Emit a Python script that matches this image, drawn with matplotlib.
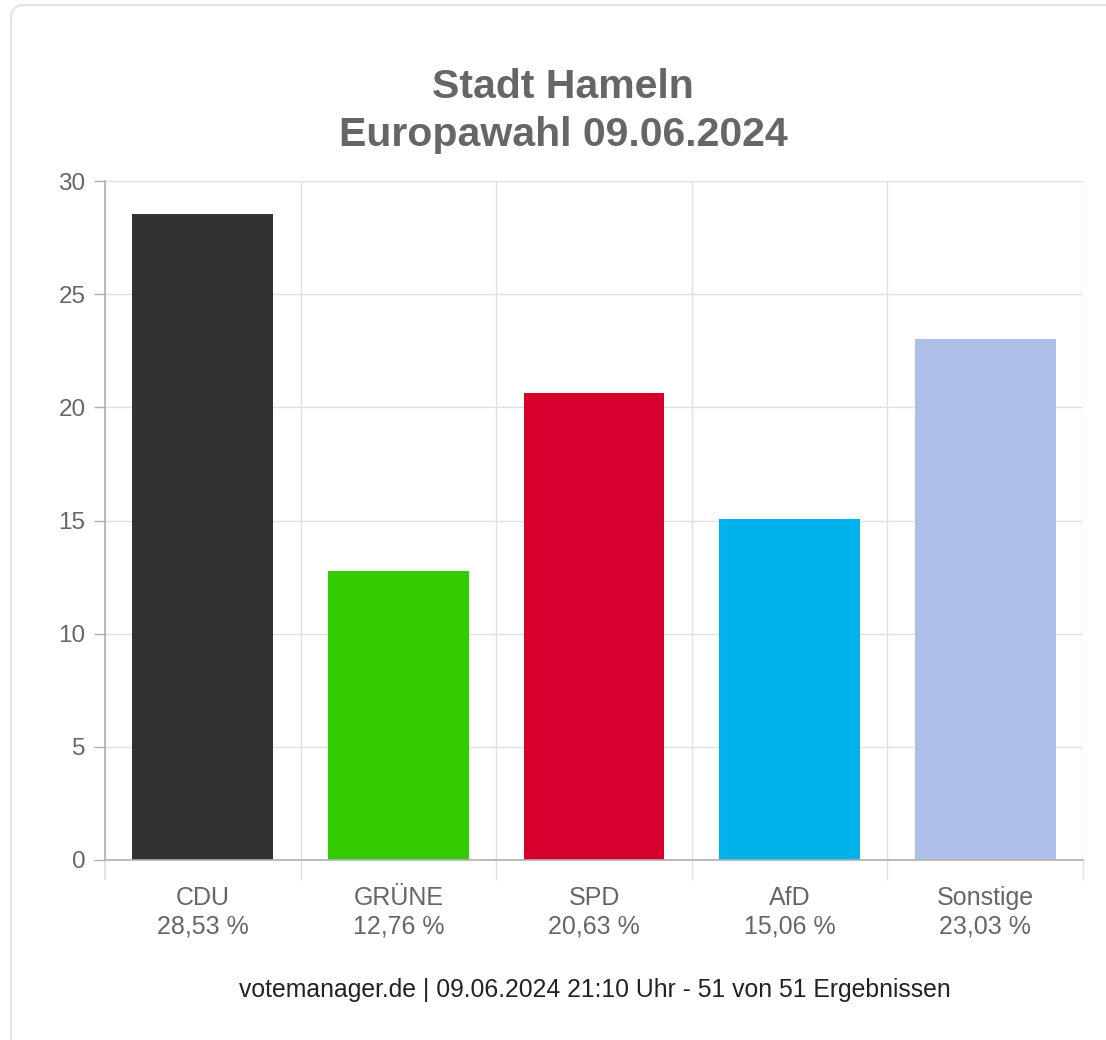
import matplotlib
matplotlib.use("Agg")
import matplotlib.pyplot as plt
from matplotlib.lines import Line2D
from matplotlib.patches import Arc

parties = ["CDU", "GRÜNE", "SPD", "AfD", "Sonstige"]
values = [28.53, 12.76, 20.63, 15.06, 23.03]
colors = ["#333230", "#33cc00", "#d5002b", "#00b2ec", "#adbfe6"]
yticks = [0, 5, 10, 15, 20, 25, 30]
title = "Stadt Hameln\nEuropawahl 09.06.2024"
footer = "votemanager.de | 09.06.2024 21:10 Uhr - 51 von 51 Ergebnissen"

plt.rcParams['font.family'] = ['Liberation Sans', 'DejaVu Sans']

W, H = 1106, 1040
fig = plt.figure(figsize=(W / 100, H / 100), dpi=100)
fig.patch.set_facecolor("white")

# outer box: top and left edge with rounded top-left corner (pixel coords)
bx, by, r = 11, 5, 12
edge_c = "#e4e4e4"
px = fig.dpi_scale_trans + matplotlib.transforms.Affine2D()
def fx(x):
    return x / W
def fy(y):
    return 1 - y / H
fig.add_artist(Line2D([fx(bx + r), 1.01], [fy(by), fy(by)], transform=fig.transFigure,
                      color=edge_c, lw=1.6))
fig.add_artist(Line2D([fx(bx), fx(bx)], [fy(by + r), -0.01], transform=fig.transFigure,
                      color=edge_c, lw=1.6))
fig.add_artist(Arc((fx(bx + r), fy(by + r)), 2 * r / W, 2 * r / H, theta1=90, theta2=180,
                   transform=fig.transFigure, color=edge_c, lw=1.6))

ax = fig.add_axes([105 / W, 1 - 860 / H, (1083 - 105) / W, (860 - 181) / H])
ax.set_facecolor("none")

n = len(parties)
xs = [i + 0.5 for i in range(n)]
ax.bar(xs, values, width=0.72, color=colors, zorder=3)

ax.set_xlim(0, n)
ax.set_ylim(0, 30)

grid_c = "#e0e0e0"
axis_c = "#b0b0b0"
ax.set_yticks(yticks)
ax.set_yticklabels([str(v) for v in yticks])
ax.set_xticks(range(n + 1))
ax.set_xticklabels([""] * (n + 1))
ax.set_xticks(xs, minor=True)
ax.set_xticklabels([f"{p}\n{v:.2f}".replace(".", ",") + " %" for p, v in zip(parties, values)],
                   minor=True)

ax.grid(True, which="major", color=grid_c, linewidth=1.0, zorder=0)
ax.set_axisbelow(True)

for s in ["top", "right"]:
    ax.spines[s].set_visible(False)
for s in ["left", "bottom"]:
    ax.spines[s].set_color(axis_c)
    ax.spines[s].set_linewidth(1.2)
ax.spines["bottom"].set_zorder(4)

ax.tick_params(axis="y", which="major", length=8, width=1.0, color=axis_c,
               labelsize=17.5, labelcolor="#666666", pad=6)
ax.tick_params(axis="x", which="major", length=14.5, width=1.0, color=grid_c)
ax.tick_params(axis="x", which="minor", length=0, labelsize=18,
               labelcolor="#666666", pad=19)
for lab in ax.get_xticklabels(minor=True):
    lab.set_multialignment("center")
    lab.set_linespacing(1.2)
t0 = ax.xaxis.get_major_ticks()[0]
t0.tick1line.set_color(axis_c)
t0.tick1line.set_markeredgewidth(1.2)

fig.text(563 / W, 1 - 111 / H, title, ha="center", va="center",
         fontsize=29.5, fontweight="bold", color="#666666", linespacing=1.3)
fig.text(595 / W, 1 - 990 / H, footer, ha="center", va="center",
         fontsize=17.8, color="#222222")

fig.savefig("out.png", dpi=100, facecolor="white")
